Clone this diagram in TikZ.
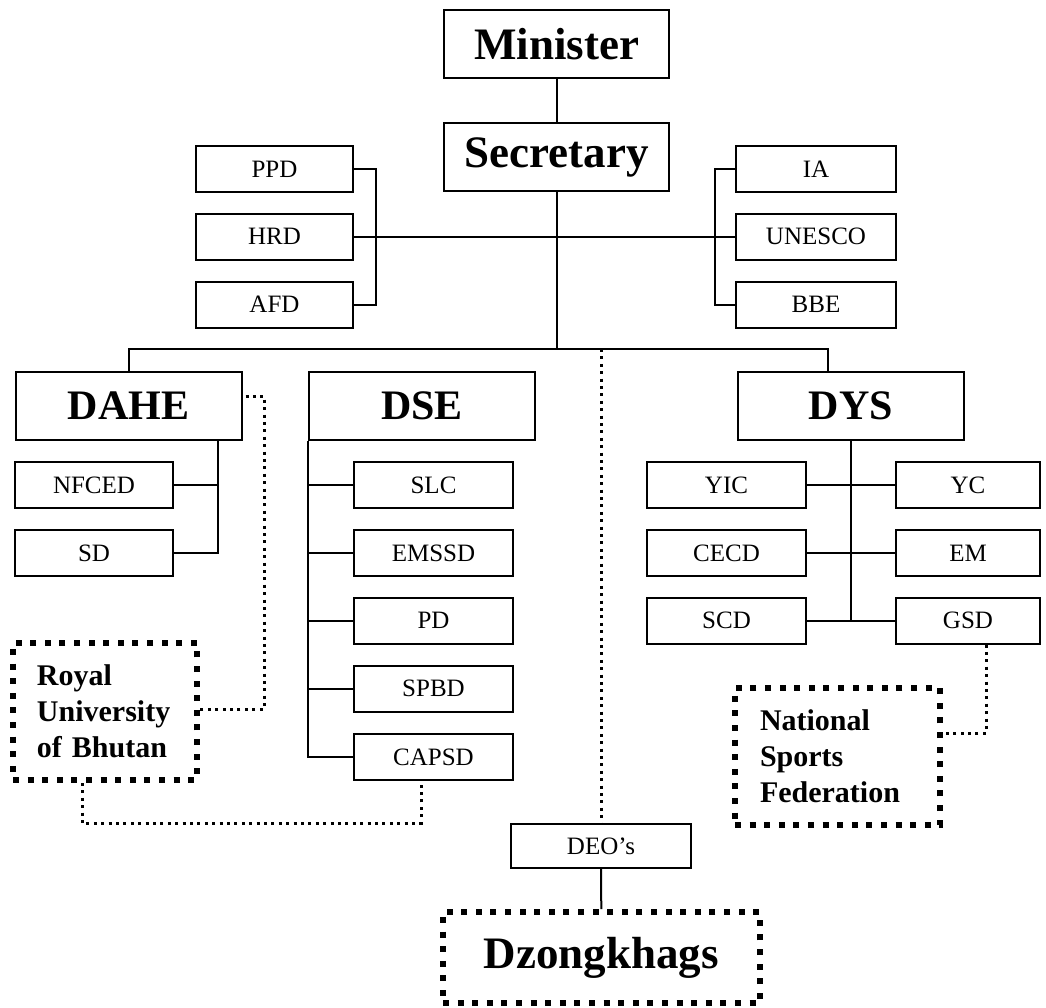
\documentclass[tikz,border=0pt]{standalone}
\usepackage{fontspec}
\setmainfont{Liberation Serif}
\begin{document}
\begin{tikzpicture}[x=0.5pt,y=-0.5pt]
    \tikzset{
        unit/.style={draw, line width=1pt, inner sep=0pt, minimum height=23pt, font=\fontsize{12.5}{15}\selectfont},
        head/.style={draw, line width=1pt, inner sep=0pt, minimum width=113pt, minimum height=34pt, font=\fontsize{21}{25}\selectfont\bfseries},
        outer/.style={draw, line width=3pt, dash pattern=on 3pt off 4.3pt, inner sep=0pt, minimum height=68.5pt, align=left, font=\fontsize{15}{18}\selectfont\bfseries},
        link/.style={line width=1pt},
        dots/.style={line width=1.5pt, dash pattern=on 1.5pt off 2.2pt}
    }
    \useasboundingbox (0,0) rectangle (1046,1008);
    \node[head, minimum width=112.5pt, font=\fontsize{22.5}{27}\selectfont\bfseries] (minister) at (556.5,44) {Minister};
    \node[head, minimum width=112.5pt, font=\fontsize{22.5}{27}\selectfont\bfseries] (secretary) at (556.5,157) {Secretary};
    \node[unit, minimum width=78.5pt] (ppd) at (274.5,169) {PPD};
    \node[unit, minimum width=78.5pt] (hrd) at (274.5,236.5) {HRD};
    \node[unit, minimum width=78.5pt] (afd) at (274.5,304.5) {AFD};
    \node[unit, minimum width=80pt] (ia) at (816,169) {IA};
    \node[unit, minimum width=80pt] (unesco) at (816,236.5) {UNESCO};
    \node[unit, minimum width=80pt] (bbe) at (816,304.5) {BBE};
    \node[head] (dahe) at (128.5,406) {DAHE};
    \node[head] (dse) at (422,406) {DSE};
    \node[head] (dys) at (851,406) {DYS};
    \node[unit, minimum width=79pt] (nfced) at (94,485) {NFCED};
    \node[unit, minimum width=79pt] (sd) at (94,553) {SD};
    \node[unit, minimum width=79.5pt] (slc) at (433.5,485) {SLC};
    \node[unit, minimum width=79.5pt] (emssd) at (433.5,553) {EMSSD};
    \node[unit, minimum width=79.5pt] (pd) at (433.5,620.5) {PD};
    \node[unit, minimum width=79.5pt] (spbd) at (433.5,688.5) {SPBD};
    \node[unit, minimum width=79.5pt] (capsd) at (433.5,757) {CAPSD};
    \node[unit, minimum width=79.5pt] (yic) at (726.5,485) {YIC};
    \node[unit, minimum width=79.5pt] (cecd) at (726.5,553) {CECD};
    \node[unit, minimum width=79.5pt] (scd) at (726.5,620.5) {SCD};
    \node[unit, minimum width=72pt] (yc) at (968,485) {YC};
    \node[unit, minimum width=72pt] (em) at (968,553) {EM};
    \node[unit, minimum width=72pt] (gsd) at (968,620.5) {GSD};
    \node[outer, text width=68pt, inner xsep=12pt] (royal) at (105,711.5) {Royal\\University\\of Bhutan};
    \node[outer, text width=77.5pt, inner xsep=12.5pt] (nsf) at (837.5,756.5) {National\\Sports\\Federation};
    \node[unit, minimum width=90pt, minimum height=22pt] (deo) at (601,846) {DEO’s};
    \node[outer, minimum width=158.5pt, minimum height=45.5pt, align=center, font=\fontsize{22.5}{27}\selectfont\bfseries] (dzong) at (601.5,957.5) {Dzongkhags};
    \coordinate (bus) at (556.5,349);
    \coordinate (dysdrop) at (828,349);
    \coordinate (lbr) at (376,236.5);
    \coordinate (rbr) at (715,236.5);
    \coordinate (dahebr) at (218,440);
    \coordinate (rubturn) at (264,709);
    \coordinate (rubdse) at (421,823);
    \coordinate (nsfturn) at (986,733);
    \draw[link] (minister) -- (secretary);
    \draw[link] (secretary.south) -- (bus);
    \draw[link] (ppd.east) -| (lbr) |- (afd.east);
    \draw[link] (ia.west) -| (rbr) |- (bbe.west);
    \draw[link] (hrd.east) -- (unesco.west);
    \draw[link] (dahe.north) |- (dysdrop) -- (dysdrop |- dys.north);
    \draw[link] (dahebr) |- (sd.east);
    \draw[link] (nfced.east) -- (nfced.east -| dahebr);
    \draw[link] (dse.south west) |- (capsd.west);
    \foreach \n in {slc,emssd,pd,spbd}
        \draw[link] (\n.west) -- (\n.west -| dse.south west);
    \draw[link] (dys.south) -- (dys.south |- scd.east);
    \draw[link] (yic.east) -- (yc.west);
    \draw[link] (cecd.east) -- (em.west);
    \draw[link] (scd.east) -- (gsd.west);
    \draw[link] (deo) -- (dzong);
    \draw[dots] ([yshift=5pt,xshift=1.5pt]dahe.east) -| (rubturn) -- (rubturn -| royal.east);
    \draw[dots] ([xshift=-11.5pt]royal.south) |- (rubdse) -- (rubdse |- capsd.south);
    \draw[dots] (deo.north |- bus) -- (deo.north);
    \draw[dots] ([xshift=9pt]gsd.south) |- (nsfturn) -- (nsfturn -| nsf.east);
\end{tikzpicture}
\end{document}
